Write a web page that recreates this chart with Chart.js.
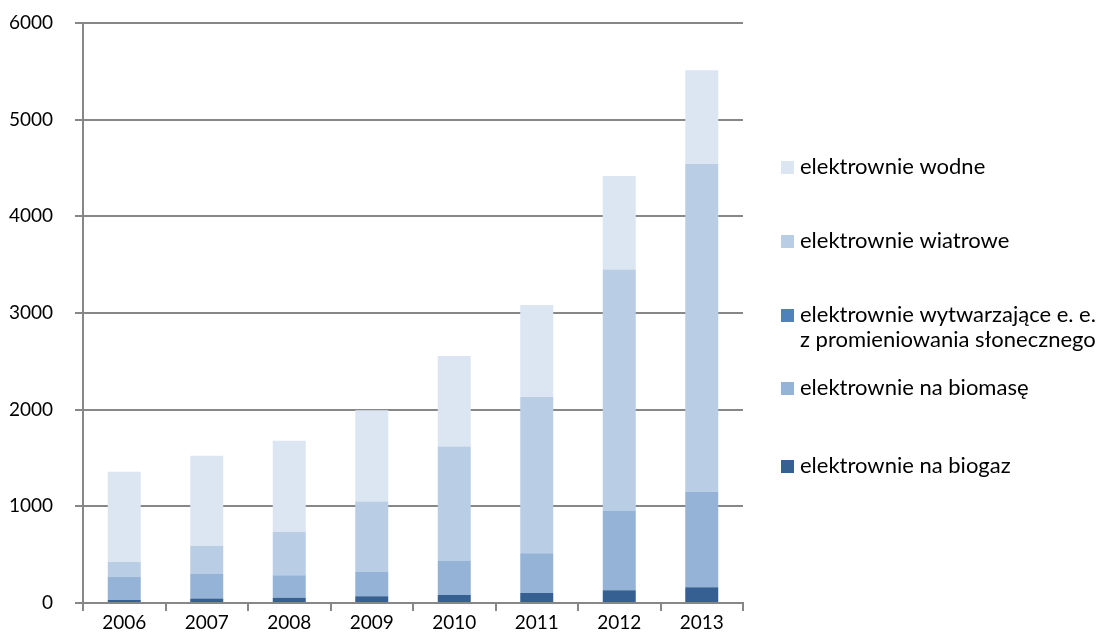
<!DOCTYPE html>
<html>
<head>
<meta charset="utf-8">
<script src="https://cdn.jsdelivr.net/npm/chart.js@4"></script>
<style>
  html, body { margin: 0; padding: 0; background: #fff; }
  #wrap { position: relative; width: 1104px; height: 644px; }
</style>
</head>
<body>
<div id="wrap"><canvas id="chart" width="1104" height="644"></canvas></div>
<script>
// installed capacity by source, 2006-2013
var years = ['2006', '2007', '2008', '2009', '2010', '2011', '2012', '2013'];
var biogaz = [32, 46, 55, 71, 83, 104, 131, 162];
var solar = [0, 0, 0, 0, 0, 1, 1, 2];
var biomasa = [239, 255, 232, 253, 356, 410, 821, 987];
var wiatrowe = [153, 288, 451, 725, 1180, 1616, 2497, 3390];
var wodne = [935, 935, 941, 945, 937, 951, 966, 970];
var yTicks = [0, 1000, 2000, 3000, 4000, 5000, 6000];

var FONT = 'Lato, "Open Sans", sans-serif';
var GRID = '#878787';

// legend drawn top-to-bottom, label lines per entry
var legendItems = [
  { lines: ['elektrownie wodne'], color: '#DCE6F2', y: 167 },
  { lines: ['elektrownie wiatrowe'], color: '#B9CDE5', y: 241 },
  { lines: ['elektrownie wytwarzające e. e.', 'z promieniowania słonecznego'], color: '#4F81BD', y: 315 },
  { lines: ['elektrownie na biomasę'], color: '#95B3D7', y: 388 },
  { lines: ['elektrownie na biogaz'], color: '#376092', y: 466 }
];

var sideLegend = {
  id: 'sideLegend',
  afterDraw: function (chart) {
    var ctx = chart.ctx;
    ctx.save();
    ctx.font = '22px ' + FONT;
    ctx.textBaseline = 'middle';
    ctx.textAlign = 'left';
    legendItems.forEach(function (it) {
      ctx.fillStyle = it.color;
      ctx.fillRect(781, it.y - 6, 13, 13);
      ctx.fillStyle = '#000';
      for (var i = 0; i < it.lines.length; i++) {
        ctx.fillText(it.lines[i], 800, it.y + i * 25);
      }
    });
    ctx.restore();
  }
};

function ds(label, data, color) {
  return { label: label, data: data, backgroundColor: color, borderWidth: 0,
           categoryPercentage: 1, barPercentage: 0.4 };
}

new Chart(document.getElementById('chart').getContext('2d'), {
  type: 'bar',
  data: {
    labels: years,
    datasets: [
      ds('elektrownie na biogaz', biogaz, '#376092'),
      ds('elektrownie wytwarzające e. e. z promieniowania słonecznego', solar, '#4F81BD'),
      ds('elektrownie na biomasę', biomasa, '#95B3D7'),
      ds('elektrownie wiatrowe', wiatrowe, '#B9CDE5'),
      ds('elektrownie wodne', wodne, '#DCE6F2')
    ]
  },
  options: {
    responsive: false,
    animation: false,
    layout: { padding: { top: 23, right: 361, left: 0, bottom: 0 } },
    plugins: { legend: { display: false }, tooltip: { enabled: false } },
    scales: {
      x: {
        stacked: true,
        grid: { drawOnChartArea: false, drawTicks: true, tickLength: 8, color: GRID, lineWidth: 2, offset: true },
        border: { color: GRID, width: 2 },
        ticks: { color: '#000', font: { family: FONT, size: 19 }, padding: 0, maxRotation: 0 },
        afterFit: function (scale) { scale.height = 41; scale.paddingLeft = 0; scale.paddingRight = 0; }
      },
      y: {
        stacked: true,
        min: 0,
        max: 6000,
        afterBuildTicks: function (scale) { scale.ticks = yTicks.map(function (v) { return { value: v }; }); },
        grid: { color: GRID, lineWidth: 2, tickLength: 8 },
        border: { color: GRID, width: 2 },
        ticks: { color: '#000', font: { family: FONT, size: 19 }, padding: 22,
                 callback: function (v) { return String(v); } },
        afterFit: function (scale) { scale.width = 83; scale.paddingTop = 0; scale.paddingBottom = 0; }
      }
    }
  },
  plugins: [sideLegend]
});
</script>
</body>
</html>
